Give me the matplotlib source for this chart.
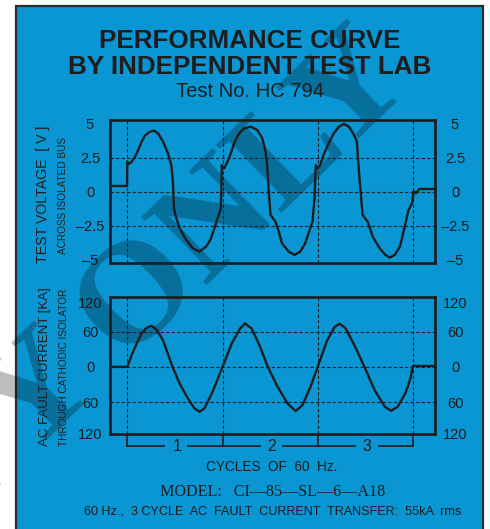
import numpy as np
import matplotlib
matplotlib.use("Agg")
import matplotlib.pyplot as plt
from matplotlib.patches import Rectangle
from matplotlib.transforms import blended_transform_factory

# test voltage across isolated bus (x in cycles of 60 Hz, y in V)
volt_x = [-0.25, -0.003, 0.0, 0.012, 0.028, 0.045, 0.080, 0.115, 0.15, 0.184,
          0.236, 0.281, 0.323, 0.375, 0.427, 0.462, 0.479, 0.49, 0.504, 0.549,
          0.619, 0.688, 0.757, 0.827, 0.861, 0.879, 0.914, 0.966, 0.983, 0.993,
          1.0, 1.018, 1.052, 1.087, 1.122, 1.174, 1.226, 1.296, 1.365, 1.417,
          1.452, 1.469, 1.486, 1.504, 1.556, 1.591, 1.625, 1.695, 1.757, 1.816,
          1.869, 1.921, 1.945, 1.966, 1.98, 2.0, 2.026, 2.061, 2.115, 2.168,
          2.222, 2.275, 2.329, 2.382, 2.411, 2.436, 2.471, 2.525, 2.578, 2.65,
          2.711, 2.757, 2.81, 2.864, 2.918, 2.954, 2.99, 3.008, 3.033, 3.05,
          3.07, 3.3]
volt_y = [0.42, 0.42, 2.2, 2.05, 2.1, 2.2, 2.57, 3.07, 3.68, 4.12,
          4.41, 4.49, 4.29, 3.68, 2.82, 1.96, 0.74, -1.22, -1.71, -2.69,
          -3.55, -4.16, -4.41, -4.04, -3.68, -3.43, -2.7, -1.6, -1.22, 1.96,
          1.72, 1.72, 2.2, 2.82, 3.56, 4.29, 4.66, 4.78, 4.54, 3.93,
          2.94, 1.96, 0.0, -1.71, -2.2, -2.94, -3.8, -4.41, -4.65, -4.41,
          -3.8, -2.69, -2.2, -0.49, 1.96, 1.72, 1.96, 2.7, 3.56, 4.29,
          4.78, 4.98, 4.78, 4.17, 3.68, 1.23, -1.71, -2.2, -3.31, -4.16,
          -4.65, -4.85, -4.65, -4.04, -2.45, -1.35, -0.86, 0.05, -0.12, 0.05,
          0.2, 0.2]

# AC fault current through cathodic isolator (kA)
cur_x = [-0.25, 0.0, 0.045, 0.098, 0.15, 0.2, 0.254, 0.306, 0.375, 0.475,
         0.549, 0.636, 0.705, 0.76, 0.81, 0.896, 1.0, 1.097, 1.184, 1.237,
         1.306, 1.39, 1.476, 1.579, 1.683, 1.768, 1.838, 1.924, 2.0, 2.099,
         2.178, 2.231, 2.295, 2.385, 2.491, 2.598, 2.705, 2.769, 2.84, 2.92,
         2.974, 3.0, 3.3]
cur_y = [0, 0, 19.8, 39.7, 56.7, 66.3, 70, 63.5, 45.4, 0,
         -28.3, -53.7, -70.7, -76.5, -70.7, -42.5, 0, 39.7, 65.2, 74,
         65.2, 36, 0, -34, -62.3, -75.3, -65.7, -34, 0, 45.4,
         68, 73.7, 65.2, 36.8, 0, -39.7, -68, -74.8, -68, -45.4,
         -19.8, 1.5, 1.5]

volt_ticks = [5, 2.5, 0, -2.5, -5]
volt_labels = ['5', '2.5', '0', '\u20132.5', '\u20135']
cur_ticks = [110, 60, 0, -60, -113]
cur_labels = ['120', '60', '0', '60', '120']
cycle_labels = ['1', '2', '3']

BLUE = '#0a96d2'
INK = '#1e1c1d'
W, H = 490, 529

plt.rcParams['font.family'] = ['Liberation Sans', 'DejaVu Sans']

fig = plt.figure(figsize=(W / 100, H / 100), dpi=100)
fig.patch.set_facecolor('white')


def fx(px):
    return px / W


def fy(py):
    return 1 - py / H


# blue panel
fig.patches.append(Rectangle((fx(16), fy(540)), fx(483) - fx(16), fy(6) - fy(540),
                             transform=fig.transFigure, facecolor=BLUE,
                             edgecolor='#2b2b2b', lw=1.6, zorder=0))
# watermark
fig.text(fx(88), fy(352), 'COPY ONLY', family='Liberation Serif', fontsize=104,
         weight='bold', rotation=44, rotation_mode='anchor', ha='center',
         va='center', color='black', alpha=0.26, zorder=0.5)

# titles
fig.text(fx(250), fy(48), 'PERFORMANCE CURVE', fontsize=18.7, weight='bold',
         color=INK, ha='center', va='baseline')
fig.text(fx(250), fy(74), 'BY INDEPENDENT TEST LAB', fontsize=18.7, weight='bold',
         color=INK, ha='center', va='baseline')
fig.text(fx(250), fy(97), 'Test No. HC 794', fontsize=14.5,
         color=INK, ha='center', va='baseline')

ax1 = fig.add_axes([fx(110), fy(262.5), fx(435) - fx(110), fy(119.5) - fy(262.5)])
ax2 = fig.add_axes([fx(110), fy(433.5), fx(435) - fx(110), fy(296.7) - fy(433.5)])

xlim = (-0.182, 3.232)


def style(ax, ticks, labels, ylim):
    ax.set_facecolor('none')
    ax.set_zorder(1)
    ax.set_xlim(*xlim)
    ax.set_ylim(*ylim)
    ax.set_xticks([])
    ax.set_yticks(ticks)
    ax.set_yticklabels(labels)
    ax.tick_params(axis='y', length=0, pad=14.4, labelleft=True, labelright=True,
                   labelsize=10.5, labelcolor=INK)
    for t in ax.yaxis.get_major_ticks():
        t.label1.set_ha('center')
        t.label2.set_ha('center')
    for s in ax.spines.values():
        s.set_linewidth(1.9)
        s.set_color(INK)
    for k in range(len(cycle_labels) + 1):
        ax.axvline(k, color=INK, lw=0.8, ls=(0, (3, 2)), zorder=1)
    for v in ticks[1:-1]:
        ax.axhline(v, color=INK, lw=0.8, ls=(0, (3, 2)), zorder=1)


style(ax1, volt_ticks, volt_labels, (-5.21, 5.31))
style(ax2, cur_ticks, cur_labels, (-113.5, 119.5))

ax1.plot(volt_x, volt_y, color=INK, lw=1.7, solid_joinstyle='round', zorder=3)
ax2.plot(cur_x, cur_y, color=INK, lw=1.7, solid_joinstyle='round', zorder=3)

# cycle bracket under the current plot
tr = blended_transform_factory(ax2.transData, ax2.transAxes)
yb = -0.091
for k in range(len(cycle_labels) + 1):
    ax2.plot([k, k], [0, yb], color=INK, lw=1.2, transform=tr, clip_on=False)
for k, lab in enumerate(cycle_labels):
    c = k + 0.52
    ax2.plot([k, c - 0.13], [yb, yb], color=INK, lw=1.2, transform=tr, clip_on=False)
    ax2.plot([c + 0.12, k + 1], [yb, yb], color=INK, lw=1.2, transform=tr, clip_on=False)
    ax2.text(c, yb - 0.005, lab, transform=tr, ha='center', va='center',
             fontsize=11.5, color=INK)

# axis titles
fig.text(fx(43), fy(194), 'TEST VOLTAGE  [ V ]', rotation=90, ha='center', va='center',
         fontsize=10.2, color=INK)
fig.text(fx(63), fy(195), 'ACROSS ISOLATED BUS', rotation=90, ha='center', va='center',
         fontsize=7.2, color=INK)
fig.text(fx(45), fy(367), 'AC FAULT CURRENT [KA]', rotation=90, ha='center', va='center',
         fontsize=9.5, color=INK)
fig.text(fx(64), fy(367), 'THROUGH CATHODIC ISOLATOR', rotation=90, ha='center',
         va='center', fontsize=7.2, color=INK)

# footer
fig.text(fx(272), fy(467), 'CYCLES  OF  60  Hz.', ha='center', va='center',
         fontsize=9.8, color=INK)
fig.text(fx(273), fy(492), 'MODEL:   CI\u201485\u2014SL\u20146\u2014A18', ha='center',
         va='center', fontsize=11.6, family='Liberation Serif', color=INK)
fig.text(fx(273), fy(511), '60 Hz.,  3 CYCLE  AC  FAULT  CURRENT  TRANSFER:  55kA  rms',
         ha='center', va='center', fontsize=9.1, color=INK)

fig.savefig('out.png', dpi=100, facecolor='white')
